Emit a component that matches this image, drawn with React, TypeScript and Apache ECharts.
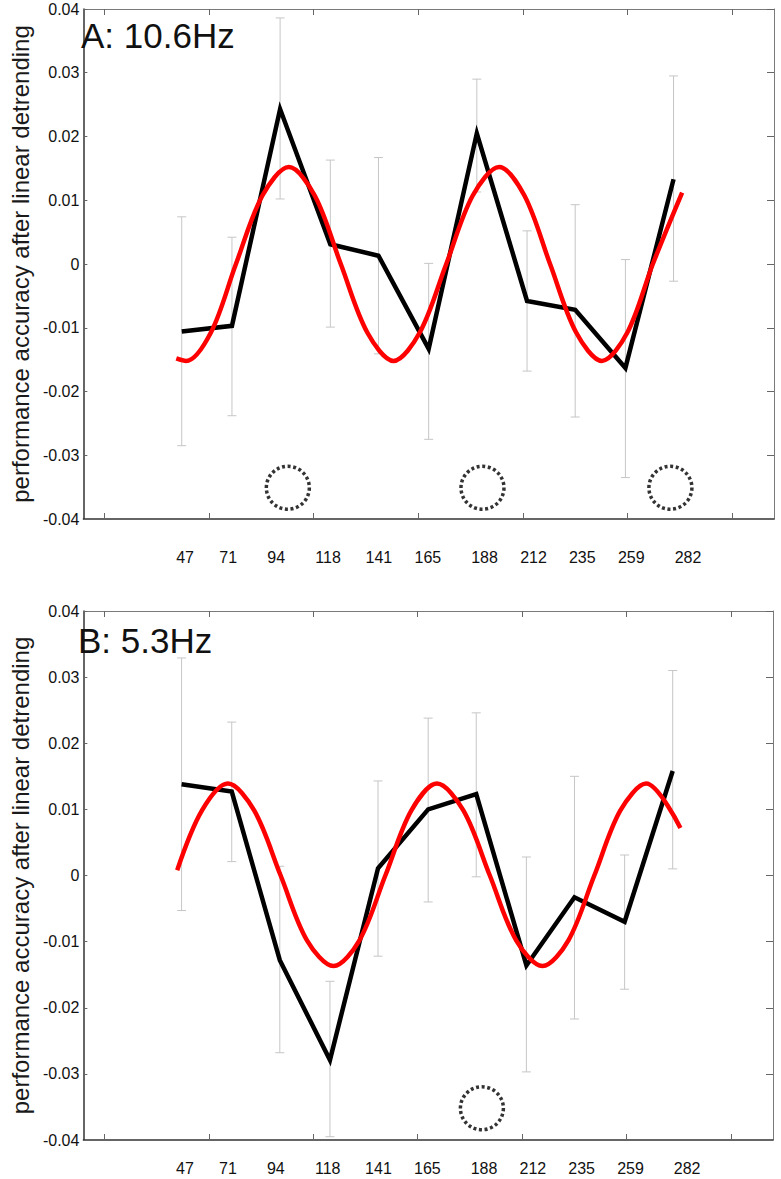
import React, { useEffect, useRef } from "react";
import * as echarts from "echarts";

// SOA (ms) categories
const soa = [47, 71, 94, 118, 141, 165, 188, 212, 235, 259, 282];
const xTickLabels = ["47", "71", "94", "118", "141", "165", "188", "212", "235", "259", "282"];

// Panel A: 10.6 Hz
const meanA = [-0.0106, -0.0097, 0.0243, 0.0031, 0.0013, -0.0133, 0.0205, -0.0058, -0.0072, -0.0163, 0.0133];
const upperA = [0.0074, 0.0042, 0.0386, 0.0163, 0.0167, 0.0001, 0.029, 0.0052, 0.0093, 0.0007, 0.0295];
const lowerA = [-0.0285, -0.0238, 0.0102, -0.0099, -0.0141, -0.0275, 0.0113, -0.0168, -0.024, -0.0335, -0.0027];
const fitXA = [44.4, 49.1, 61.0, 72.9, 85.5, 98.2, 110.6, 123.0, 135.6, 148.2, 160.8, 173.4, 186.0, 198.7, 210.8, 223.0, 235.4, 247.8, 260.0, 272.1, 286.1];
const fitYA = [-0.0148, -0.0152, -0.0107, 0, 0.0107, 0.0152, 0.0107, 0, -0.0107, -0.0152, -0.0107, 0, 0.0107, 0.0152, 0.0107, 0, -0.0107, -0.0152, -0.0107, 0, 0.0112];
const circlesXA = [97.7, 190.7, 280.5];
const circlesYA = [-0.0351, -0.0351, -0.0351];

// Panel B: 5.3 Hz
const meanB = [0.0138, 0.0127, -0.0128, -0.0279, 0.0011, 0.01, 0.0123, -0.0136, -0.0033, -0.007, 0.0158];
const upperB = [0.0329, 0.0232, 0.0014, -0.016, 0.0143, 0.0238, 0.0246, 0.0028, 0.015, 0.0031, 0.031];
const lowerB = [-0.0053, 0.0021, -0.0268, -0.0395, -0.0122, -0.004, -0.0002, -0.0297, -0.0217, -0.0172, 0.001];
const fitXB = [44.9, 56.7, 69.2, 81.8, 94.4, 107.0, 119.7, 132.1, 144.5, 156.9, 169.2, 181.9, 194.5, 207.1, 219.7, 232.1, 244.5, 256.9, 269.3, 285.7];
const fitYB = [0.0008, 0.0098, 0.0139, 0.0098, 0, -0.0098, -0.0137, -0.0098, 0, 0.0098, 0.0139, 0.0098, 0, -0.0098, -0.0137, -0.0098, 0, 0.0098, 0.0139, 0.0072];
const circlesXB = [190.7];
const circlesYB = [-0.0352];

// axis layout
const xTickPos = [10, 60, 110, 160, 210, 260, 310];
const xLabelPos = [48.6, 69.2, 92.1, 116.9, 141.2, 164.6, 191.7, 215.1, 238.4, 261.8, 288.9];

const FONT = "'Liberation Sans', Arial, Helvetica, sans-serif";

function zip(a: number[], b: number[]) {
  return a.map((v, i) => [v, b[i]]);
}

export default function App() {
  const ref = useRef<HTMLDivElement>(null);
  useEffect(() => {
    if (!ref.current) return;
    const chart = echarts.init(ref.current, undefined, { renderer: "svg" });

    const darkLine = { color: "#333", width: 1.5 };
    const lightLine = { color: "#7a7a7a", width: 1 };
    const tickStyle = { color: "#666", width: 1 };

    const makeX = (gi: number, pos: "bottom" | "top", margin: number) => ({
      type: "value",
      gridIndex: gi,
      min: 0,
      max: 330,
      position: pos,
      splitLine: { show: false },
      axisLine: { show: true, onZero: false, lineStyle: pos === "bottom" ? darkLine : lightLine },
      axisTick: { show: true, inside: true, length: 6, customValues: xTickPos, lineStyle: tickStyle },
      axisLabel:
        pos === "bottom"
          ? {
              show: true,
              customValues: xLabelPos,
              margin,
              fontSize: 16,
              fontFamily: FONT,
              color: "#111",
              formatter: (v: number) => {
                const i = xLabelPos.findIndex((p) => Math.abs(p - v) < 0.01);
                return i >= 0 ? xTickLabels[i] : "";
              },
            }
          : { show: false },
    });

    const makeY = (gi: number, pos: "left" | "right") => ({
      type: "value",
      gridIndex: gi,
      min: -0.04,
      max: 0.04,
      interval: 0.01,
      position: pos,
      splitLine: { show: false },
      axisLine: { show: true, onZero: false, lineStyle: pos === "left" ? darkLine : lightLine },
      axisTick: { show: true, inside: true, length: pos === "left" ? 4 : 7, lineStyle: tickStyle },
      axisLabel:
        pos === "left"
          ? {
              show: true,
              margin: 4,
              fontSize: 16,
              fontFamily: FONT,
              color: "#111",
              formatter: (v: number) => {
                const r = Math.round(v * 100) / 100;
                return r === 0 ? "0" : r.toFixed(2);
              },
            }
          : { show: false },
      name: pos === "left" ? "performance accuracy after linear detrending" : "",
      nameLocation: "middle",
      nameGap: 45,
      nameTextStyle: { fontSize: 24, fontFamily: FONT, color: "#1a1a1a" },
    });

    const errRender = (params: any, api: any) => {
      const x = api.value(0);
      const lo = api.value(1);
      const hi = api.value(2);
      const pHi = api.coord([x, hi]);
      const pLo = api.coord([x, lo]);
      const w = 4.5;
      const st = { stroke: "#c6c6c6", lineWidth: 1 };
      return {
        type: "group",
        children: [
          { type: "line", shape: { x1: pHi[0], y1: pHi[1], x2: pLo[0], y2: pLo[1] }, style: st },
          { type: "line", shape: { x1: pHi[0] - w, y1: pHi[1], x2: pHi[0] + w, y2: pHi[1] }, style: st },
          { type: "line", shape: { x1: pLo[0] - w, y1: pLo[1], x2: pLo[0] + w, y2: pLo[1] }, style: st },
        ],
      };
    };

    const panelSeries = (
      xi: number,
      yi: number,
      mean: number[],
      upper: number[],
      lower: number[],
      fx: number[],
      fy: number[],
      cx: number[],
      cy: number[]
    ) => [
      {
        type: "custom",
        xAxisIndex: xi,
        yAxisIndex: yi,
        renderItem: errRender,
        data: soa.map((s, i) => [s, lower[i], upper[i]]),
        encode: { x: 0, y: [1, 2] },
        z: 1,
        silent: true,
      },
      {
        type: "line",
        xAxisIndex: xi,
        yAxisIndex: yi,
        data: zip(soa, mean),
        symbol: "none",
        lineStyle: { color: "#000", width: 4.5, join: "miter" },
        z: 2,
      },
      {
        type: "line",
        xAxisIndex: xi,
        yAxisIndex: yi,
        data: zip(fx, fy),
        smooth: 0.33,
        symbol: "none",
        lineStyle: { color: "#f00", width: 4.5 },
        z: 3,
      },
      {
        type: "scatter",
        xAxisIndex: xi,
        yAxisIndex: yi,
        data: zip(cx, cy),
        symbol: "circle",
        symbolSize: 43,
        itemStyle: { color: "rgba(0,0,0,0)", borderColor: "#000", borderWidth: 3.5, borderType: [3, 2.6] },
        z: 4,
        silent: true,
      },
    ];

    chart.setOption({
      animation: false,
      backgroundColor: "#fff",
      grid: [
        { left: 68, top: 9, width: 706, height: 510 },
        { left: 67, top: 611, width: 706, height: 529 },
      ],
      xAxis: [makeX(0, "bottom", 30), makeX(0, "top", 0), makeX(1, "bottom", 20), makeX(1, "top", 0)],
      yAxis: [makeY(0, "left"), makeY(0, "right"), makeY(1, "left"), makeY(1, "right")],
      graphic: [
        {
          type: "text",
          x: 81,
          y: 35,
          style: { text: "A: 10.6Hz", font: `35px ${FONT}`, fill: "#111", verticalAlign: "middle" },
          z: 10,
        },
        {
          type: "text",
          x: 78,
          y: 640,
          style: { text: "B: 5.3Hz", font: `35px ${FONT}`, fill: "#111", verticalAlign: "middle" },
          z: 10,
        },
      ],
      series: [
        ...panelSeries(0, 0, meanA, upperA, lowerA, fitXA, fitYA, circlesXA, circlesYA),
        ...panelSeries(2, 2, meanB, upperB, lowerB, fitXB, fitYB, circlesXB, circlesYB),
      ],
    });

    return () => chart.dispose();
  }, []);

  return (
    <div
      ref={ref}
      style={{ position: "absolute", left: 0, top: 0, width: 781, height: 1179, background: "#fff" }}
    />
  );
}
